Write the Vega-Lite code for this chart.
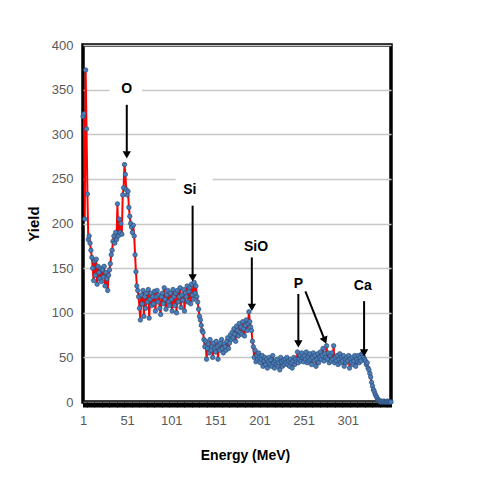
{
 "$schema": "https://vega.github.io/schema/vega-lite/v6.json",
 "width": 308, "height": 357,
 "autosize": {"type": "none"},
 "padding": {"left": 83, "top": 45, "right": 109, "bottom": 82},
 "background": "white",
 "config": {"view": {"stroke": "black", "strokeWidth": 3.5}, "font": "Liberation Sans"},
 "datasets": {
  "spectrum": [
   {"Energy":1,"Yield":320},{"Energy":2,"Yield":323},{"Energy":3,"Yield":205},{"Energy":4,"Yield":372},{"Energy":5,"Yield":306},{"Energy":6,"Yield":233},{"Energy":7,"Yield":182},{"Energy":8,"Yield":186},{"Energy":9,"Yield":178},{"Energy":10,"Yield":170},
   {"Energy":11,"Yield":162},{"Energy":12,"Yield":150},{"Energy":13,"Yield":136},{"Energy":14,"Yield":158},{"Energy":15,"Yield":142},{"Energy":16,"Yield":160},{"Energy":17,"Yield":132},{"Energy":18,"Yield":152},{"Energy":19,"Yield":145},{"Energy":20,"Yield":138},
   {"Energy":21,"Yield":150},{"Energy":22,"Yield":135},{"Energy":23,"Yield":148},{"Energy":24,"Yield":140},{"Energy":25,"Yield":152},{"Energy":26,"Yield":130},{"Energy":27,"Yield":145},{"Energy":28,"Yield":138},{"Energy":29,"Yield":125},{"Energy":30,"Yield":142},
   {"Energy":31,"Yield":148},{"Energy":32,"Yield":155},{"Energy":33,"Yield":165},{"Energy":34,"Yield":170},{"Energy":35,"Yield":180},{"Energy":36,"Yield":186},{"Energy":37,"Yield":178},{"Energy":38,"Yield":190},{"Energy":39,"Yield":182},{"Energy":40,"Yield":222},
   {"Energy":41,"Yield":186},{"Energy":42,"Yield":205},{"Energy":43,"Yield":190},{"Energy":44,"Yield":200},{"Energy":45,"Yield":188},{"Energy":46,"Yield":232},{"Energy":47,"Yield":240},{"Energy":48,"Yield":266},{"Energy":49,"Yield":255},{"Energy":50,"Yield":238},
   {"Energy":51,"Yield":232},{"Energy":52,"Yield":236},{"Energy":53,"Yield":218},{"Energy":54,"Yield":208},{"Energy":55,"Yield":200},{"Energy":56,"Yield":196},{"Energy":57,"Yield":190},{"Energy":58,"Yield":198},{"Energy":59,"Yield":186},{"Energy":60,"Yield":165},
   {"Energy":61,"Yield":146},{"Energy":62,"Yield":130},{"Energy":63,"Yield":125},{"Energy":64,"Yield":118},{"Energy":65,"Yield":105},{"Energy":66,"Yield":92},{"Energy":67,"Yield":120},{"Energy":68,"Yield":110},{"Energy":69,"Yield":125},{"Energy":70,"Yield":96},
   {"Energy":71,"Yield":118},{"Energy":72,"Yield":105},{"Energy":73,"Yield":122},{"Energy":74,"Yield":112},{"Energy":75,"Yield":126},{"Energy":76,"Yield":94},{"Energy":77,"Yield":115},{"Energy":78,"Yield":122},{"Energy":79,"Yield":108},{"Energy":80,"Yield":118},
   {"Energy":81,"Yield":110},{"Energy":82,"Yield":124},{"Energy":83,"Yield":102},{"Energy":84,"Yield":118},{"Energy":85,"Yield":125},{"Energy":86,"Yield":112},{"Energy":87,"Yield":120},{"Energy":88,"Yield":105},{"Energy":89,"Yield":98},{"Energy":90,"Yield":118},
   {"Energy":91,"Yield":122},{"Energy":92,"Yield":110},{"Energy":93,"Yield":128},{"Energy":94,"Yield":115},{"Energy":95,"Yield":104},{"Energy":96,"Yield":120},{"Energy":97,"Yield":125},{"Energy":98,"Yield":112},{"Energy":99,"Yield":108},{"Energy":100,"Yield":122},
   {"Energy":101,"Yield":115},{"Energy":102,"Yield":102},{"Energy":103,"Yield":126},{"Energy":104,"Yield":118},{"Energy":105,"Yield":108},{"Energy":106,"Yield":122},{"Energy":107,"Yield":100},{"Energy":108,"Yield":125},{"Energy":109,"Yield":112},{"Energy":110,"Yield":118},
   {"Energy":111,"Yield":128},{"Energy":112,"Yield":106},{"Energy":113,"Yield":120},{"Energy":114,"Yield":114},{"Energy":115,"Yield":126},{"Energy":116,"Yield":102},{"Energy":117,"Yield":122},{"Energy":118,"Yield":118},{"Energy":119,"Yield":130},{"Energy":120,"Yield":112},
   {"Energy":121,"Yield":124},{"Energy":122,"Yield":128},{"Energy":123,"Yield":110},{"Energy":124,"Yield":132},{"Energy":125,"Yield":120},{"Energy":126,"Yield":115},{"Energy":127,"Yield":134},{"Energy":128,"Yield":122},{"Energy":129,"Yield":130},{"Energy":130,"Yield":118},
   {"Energy":131,"Yield":112},{"Energy":132,"Yield":104},{"Energy":133,"Yield":96},{"Energy":134,"Yield":92},{"Energy":135,"Yield":86},{"Energy":136,"Yield":80},{"Energy":137,"Yield":78},{"Energy":138,"Yield":70},{"Energy":139,"Yield":62},{"Energy":140,"Yield":68},
   {"Energy":141,"Yield":48},{"Energy":142,"Yield":60},{"Energy":143,"Yield":65},{"Energy":144,"Yield":55},{"Energy":145,"Yield":70},{"Energy":146,"Yield":58},{"Energy":147,"Yield":62},{"Energy":148,"Yield":50},{"Energy":149,"Yield":66},{"Energy":150,"Yield":60},
   {"Energy":151,"Yield":56},{"Energy":152,"Yield":68},{"Energy":153,"Yield":62},{"Energy":154,"Yield":48},{"Energy":155,"Yield":64},{"Energy":156,"Yield":58},{"Energy":157,"Yield":66},{"Energy":158,"Yield":70},{"Energy":159,"Yield":60},{"Energy":160,"Yield":55},
   {"Energy":161,"Yield":65},{"Energy":162,"Yield":62},{"Energy":163,"Yield":58},{"Energy":164,"Yield":68},{"Energy":165,"Yield":72},{"Energy":166,"Yield":60},{"Energy":167,"Yield":66},{"Energy":168,"Yield":75},{"Energy":169,"Yield":70},{"Energy":170,"Yield":78},
   {"Energy":171,"Yield":72},{"Energy":172,"Yield":82},{"Energy":173,"Yield":76},{"Energy":174,"Yield":68},{"Energy":175,"Yield":85},{"Energy":176,"Yield":80},{"Energy":177,"Yield":74},{"Energy":178,"Yield":88},{"Energy":179,"Yield":78},{"Energy":180,"Yield":84},
   {"Energy":181,"Yield":76},{"Energy":182,"Yield":90},{"Energy":183,"Yield":82},{"Energy":184,"Yield":74},{"Energy":185,"Yield":86},{"Energy":186,"Yield":92},{"Energy":187,"Yield":80},{"Energy":188,"Yield":88},{"Energy":189,"Yield":101},{"Energy":190,"Yield":90},
   {"Energy":191,"Yield":84},{"Energy":192,"Yield":80},{"Energy":193,"Yield":68},{"Energy":194,"Yield":62},{"Energy":195,"Yield":50},{"Energy":196,"Yield":58},{"Energy":197,"Yield":45},{"Energy":198,"Yield":52},{"Energy":199,"Yield":48},{"Energy":200,"Yield":55},
   {"Energy":201,"Yield":50},{"Energy":202,"Yield":44},{"Energy":203,"Yield":48},{"Energy":204,"Yield":52},{"Energy":205,"Yield":40},{"Energy":206,"Yield":46},{"Energy":207,"Yield":50},{"Energy":208,"Yield":42},{"Energy":209,"Yield":48},{"Energy":210,"Yield":38},
   {"Energy":211,"Yield":45},{"Energy":212,"Yield":50},{"Energy":213,"Yield":42},{"Energy":214,"Yield":47},{"Energy":215,"Yield":40},{"Energy":216,"Yield":52},{"Energy":217,"Yield":44},{"Energy":218,"Yield":38},{"Energy":219,"Yield":46},{"Energy":220,"Yield":42},
   {"Energy":221,"Yield":48},{"Energy":222,"Yield":40},{"Energy":223,"Yield":44},{"Energy":224,"Yield":36},{"Energy":225,"Yield":50},{"Energy":226,"Yield":45},{"Energy":227,"Yield":40},{"Energy":228,"Yield":47},{"Energy":229,"Yield":42},{"Energy":230,"Yield":48},
   {"Energy":231,"Yield":44},{"Energy":232,"Yield":50},{"Energy":233,"Yield":42},{"Energy":234,"Yield":46},{"Energy":235,"Yield":40},{"Energy":236,"Yield":48},{"Energy":237,"Yield":44},{"Energy":238,"Yield":38},{"Energy":239,"Yield":46},{"Energy":240,"Yield":50},
   {"Energy":241,"Yield":42},{"Energy":242,"Yield":48},{"Energy":243,"Yield":45},{"Energy":244,"Yield":56},{"Energy":245,"Yield":44},{"Energy":246,"Yield":48},{"Energy":247,"Yield":52},{"Energy":248,"Yield":46},{"Energy":249,"Yield":55},{"Energy":250,"Yield":50},
   {"Energy":251,"Yield":45},{"Energy":252,"Yield":52},{"Energy":253,"Yield":48},{"Energy":254,"Yield":56},{"Energy":255,"Yield":44},{"Energy":256,"Yield":50},{"Energy":257,"Yield":46},{"Energy":258,"Yield":54},{"Energy":259,"Yield":48},{"Energy":260,"Yield":42},
   {"Energy":261,"Yield":50},{"Energy":262,"Yield":55},{"Energy":263,"Yield":46},{"Energy":264,"Yield":52},{"Energy":265,"Yield":40},{"Energy":266,"Yield":48},{"Energy":267,"Yield":54},{"Energy":268,"Yield":44},{"Energy":269,"Yield":50},{"Energy":270,"Yield":56},
   {"Energy":271,"Yield":48},{"Energy":272,"Yield":52},{"Energy":273,"Yield":60},{"Energy":274,"Yield":46},{"Energy":275,"Yield":54},{"Energy":276,"Yield":50},{"Energy":277,"Yield":63},{"Energy":278,"Yield":48},{"Energy":279,"Yield":55},{"Energy":280,"Yield":44},
   {"Energy":281,"Yield":52},{"Energy":282,"Yield":46},{"Energy":283,"Yield":55},{"Energy":284,"Yield":48},{"Energy":285,"Yield":63},{"Energy":286,"Yield":44},{"Energy":287,"Yield":50},{"Energy":288,"Yield":46},{"Energy":289,"Yield":52},{"Energy":290,"Yield":42},
   {"Energy":291,"Yield":48},{"Energy":292,"Yield":54},{"Energy":293,"Yield":44},{"Energy":294,"Yield":50},{"Energy":295,"Yield":46},{"Energy":296,"Yield":52},{"Energy":297,"Yield":40},{"Energy":298,"Yield":48},{"Energy":299,"Yield":44},{"Energy":300,"Yield":50},
   {"Energy":301,"Yield":46},{"Energy":302,"Yield":52},{"Energy":303,"Yield":38},{"Energy":304,"Yield":48},{"Energy":305,"Yield":44},{"Energy":306,"Yield":50},{"Energy":307,"Yield":42},{"Energy":308,"Yield":46},{"Energy":309,"Yield":52},{"Energy":310,"Yield":40},
   {"Energy":311,"Yield":48},{"Energy":312,"Yield":45},{"Energy":313,"Yield":52},{"Energy":314,"Yield":44},{"Energy":315,"Yield":50},{"Energy":316,"Yield":46},{"Energy":317,"Yield":54},{"Energy":318,"Yield":52},{"Energy":319,"Yield":50},{"Energy":320,"Yield":48},
   {"Energy":321,"Yield":46},{"Energy":322,"Yield":42},{"Energy":323,"Yield":44},{"Energy":324,"Yield":38},{"Energy":325,"Yield":36},{"Energy":326,"Yield":32},{"Energy":327,"Yield":28},{"Energy":328,"Yield":22},{"Energy":329,"Yield":18},{"Energy":330,"Yield":14},
   {"Energy":331,"Yield":12},{"Energy":332,"Yield":9},{"Energy":333,"Yield":7},{"Energy":334,"Yield":5},{"Energy":335,"Yield":3},{"Energy":336,"Yield":2},{"Energy":337,"Yield":1},{"Energy":338,"Yield":0},{"Energy":339,"Yield":1},{"Energy":340,"Yield":0},
   {"Energy":341,"Yield":0},{"Energy":342,"Yield":1},{"Energy":343,"Yield":0},{"Energy":344,"Yield":0},{"Energy":345,"Yield":0},{"Energy":346,"Yield":1},{"Energy":347,"Yield":0},{"Energy":348,"Yield":0},{"Energy":349,"Yield":0},{"Energy":350,"Yield":0}
  ],
  "gaps": [
   {"Energy": 31, "Energy2": 68, "Yield": 350},
   {"Energy": 106, "Energy2": 148, "Yield": 250}
  ],
  "labels": [
   {"Energy": 50.6, "Yield": 351, "label": "O"},
   {"Energy": 122, "Yield": 237, "label": "Si"},
   {"Energy": 197, "Yield": 174, "label": "SiO"},
   {"Energy": 245, "Yield": 132, "label": "P"},
   {"Energy": 318, "Yield": 130, "label": "Ca"}
  ],
  "arrows": [
   {"Energy": 50.6, "Energy2": 50.6, "Yield": 333, "Yield2": 280},
   {"Energy": 125.2, "Energy2": 125.2, "Yield": 220, "Yield2": 142},
   {"Energy": 192.3, "Energy2": 192.3, "Yield": 162, "Yield2": 108},
   {"Energy": 245, "Energy2": 245, "Yield": 121, "Yield2": 67},
   {"Energy": 253, "Energy2": 275.5, "Yield": 124, "Yield2": 68},
   {"Energy": 319.5, "Energy2": 319.5, "Yield": 113, "Yield2": 57}
  ],
  "heads": [
   {"Energy": 50.6, "Yield": 277, "angle": 0},
   {"Energy": 125.2, "Yield": 139, "angle": 0},
   {"Energy": 192.3, "Yield": 106, "angle": 0},
   {"Energy": 245, "Yield": 65, "angle": 0},
   {"Energy": 275.1, "Yield": 69, "angle": 338},
   {"Energy": 319.5, "Yield": 55, "angle": 0}
  ]
 },
 "encoding": {
  "x": {"field": "Energy", "type": "quantitative",
   "scale": {"domain": [1, 350], "nice": false, "zero": false},
   "axis": {"title": "Energy (MeV)", "titleFontSize": 14, "titleFontWeight": "bold", "titleColor": "#000000", "titlePadding": 21, "titleX": 162,
     "tickCount": 350, "labelExpr": "(datum.value - 1) % 50 == 0 ? datum.label : ''",
     "labelOverlap": false, "labelFlush": false, "labelBound": false, "grid": false, "domain": false,
     "ticks": true, "tickColor": "#000000", "tickSize": 5, "tickWidth": 1,
     "labelFontSize": 13, "labelColor": "#595959", "labelPadding": 7}},
  "y": {"field": "Yield", "type": "quantitative",
   "scale": {"domain": [0, 400], "nice": false},
   "axis": {"title": "Yield", "values": [0, 50, 100, 150, 200, 250, 300, 350, 400],
     "grid": true, "gridColor": "#c8c8c8", "gridWidth": 1.5, "ticks": false, "domain": false,
     "labelPadding": 10, "labelFontSize": 13, "labelColor": "#595959",
     "titleFontSize": 15, "titleFontWeight": "bold", "titleColor": "#000000", "titlePadding": 10}}
 },
 "layer": [
  {"data": {"name": "gaps"}, "mark": {"type": "rule", "color": "white", "strokeWidth": 4}, "encoding": {"x2": {"field": "Energy2"}}},
  {"data": {"name": "spectrum"}, "mark": {"type": "line", "color": "#ff0000", "strokeWidth": 2}},
  {"data": {"name": "spectrum"}, "mark": {"type": "point", "filled": true, "color": "#4a7ebb", "stroke": "#2c4d75", "strokeWidth": 0.7, "size": 20, "opacity": 1}},
  {"data": {"name": "arrows"}, "mark": {"type": "rule", "color": "#000000", "strokeWidth": 2}, "encoding": {"x2": {"field": "Energy2"}, "y2": {"field": "Yield2"}}},
  {"data": {"name": "heads"}, "mark": {"type": "point", "shape": "triangle-down", "filled": true, "color": "#000000", "size": 70, "opacity": 1}, "encoding": {"angle": {"field": "angle", "type": "quantitative", "scale": null}}},
  {"data": {"name": "labels"}, "mark": {"type": "text", "fontSize": 14, "fontWeight": "bold", "color": "#000000", "align": "center", "baseline": "middle"}, "encoding": {"text": {"field": "label"}}}
 ]
}
